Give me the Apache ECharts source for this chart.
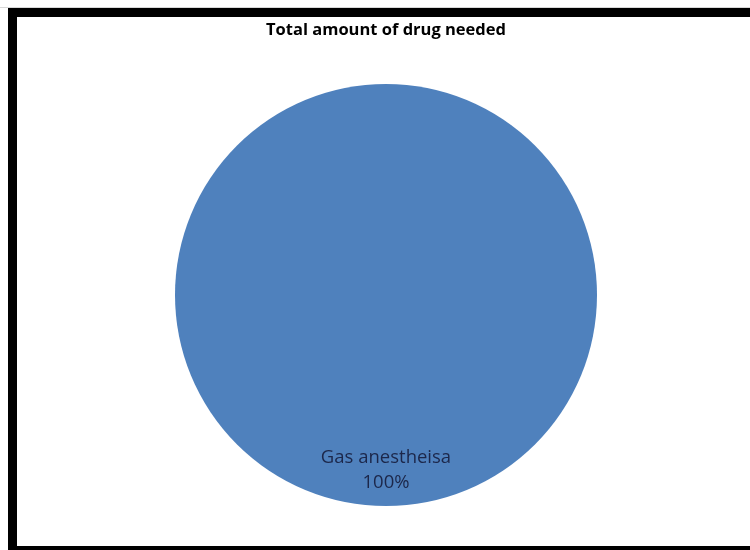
<!DOCTYPE html>
<html>
<head>
<meta charset="utf-8">
<style>
  html, body { margin: 0; padding: 0; background: #ffffff; }
  #chart { width: 750px; height: 550px; }
</style>
<script src="https://cdn.jsdelivr.net/npm/echarts@6/dist/echarts.min.js"></script>
</head>
<body>
<div id="chart"></div>
<script>
// Drug share data
const categories = ['Gas anestheisa'];
const amounts = [100];
const chartTitle = 'Total amount of drug needed';

const chart = echarts.init(document.getElementById('chart'), null, { renderer: 'canvas' });

const pieData = categories.map((name, i) => ({ name: name, value: amounts[i] }));

chart.setOption({
  backgroundColor: '#ffffff',
  animation: false,
  graphic: [
    // thin grey line above the frame
    { type: 'rect', shape: { x: 0, y: 7, width: 750, height: 1 }, style: { fill: '#d8d8d8' }, z: -10 },
    // black frame (left, top, bottom)
    { type: 'rect', shape: { x: 8, y: 8, width: 742, height: 542 }, style: { fill: '#000000' }, z: -10 },
    { type: 'rect', shape: { x: 17, y: 17, width: 740, height: 529 }, style: { fill: '#ffffff' }, z: -9 }
  ],
  title: {
    text: chartTitle,
    left: 266,
    top: 17,
    padding: [5, 0, 5, 0],
    textStyle: {
      fontFamily: 'Open Sans',
      fontWeight: 'bold',
      fontSize: 16.5,
      color: '#000000'
    }
  },
  series: [{
    type: 'pie',
    center: [386, 295],
    radius: 211,
    startAngle: 90,
    clockwise: true,
    silent: true,
    itemStyle: { color: '#4f81bd', borderWidth: 0 },
    label: {
      show: true,
      position: 'inside',
      offset: [0, 67],
      formatter: p => p.name + '\n' + Math.round(p.percent) + '%',
      fontFamily: 'Open Sans',
      fontSize: 18.5,
      lineHeight: 25,
      color: '#1c274a',
      align: 'center'
    },
    labelLine: { show: false },
    data: pieData
  }]
});
</script>
</body>
</html>
